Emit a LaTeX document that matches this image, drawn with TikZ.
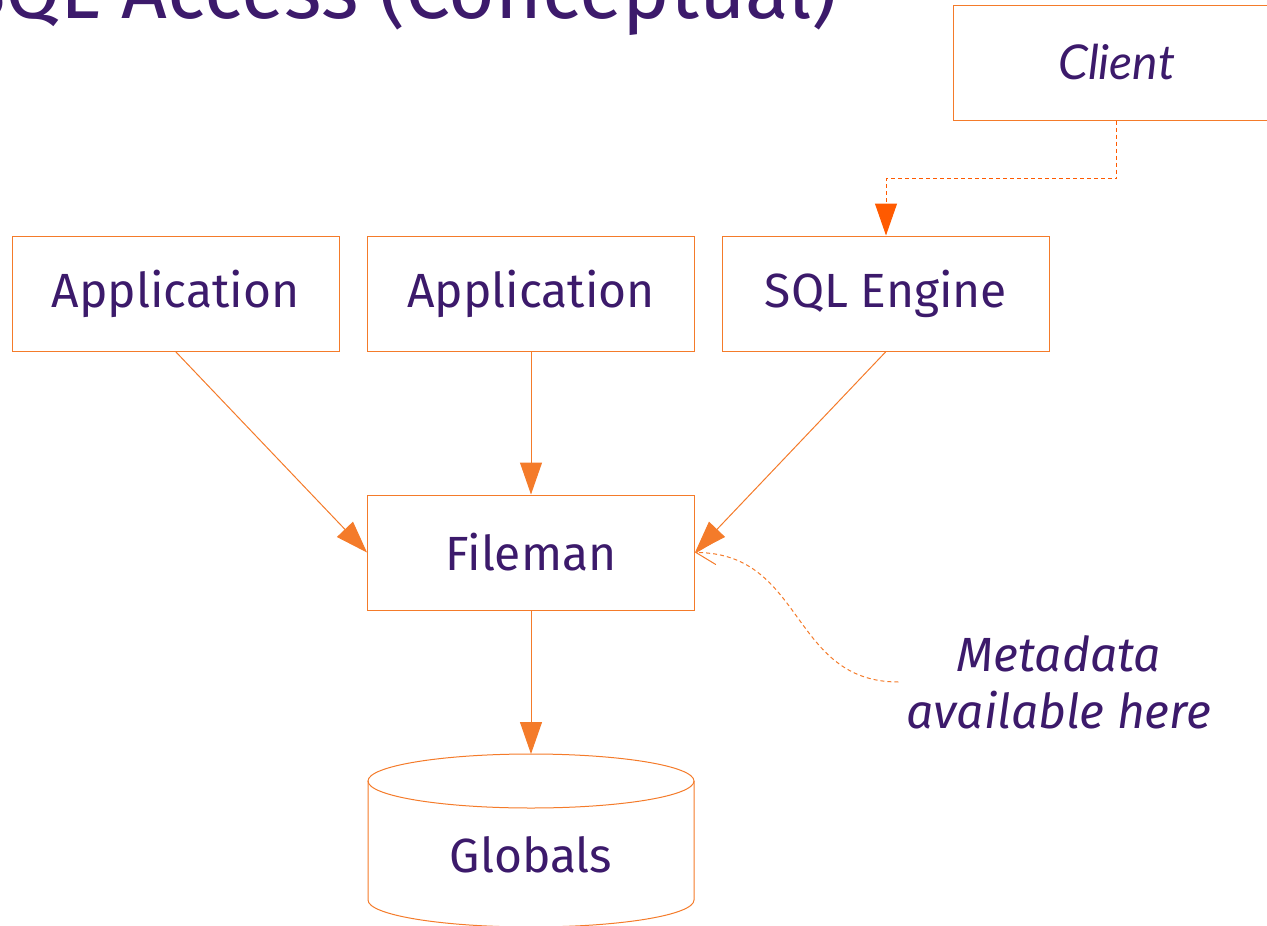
\documentclass[tikz,border=0pt]{standalone}
\usepackage{fontspec}
\setmainfont{Fira Sans}
\newfontfamily\clientfont{Lato}
\usetikzlibrary{arrows.meta}
\definecolor{deeppurple}{HTML}{3C1A6B}
\definecolor{lineorange}{HTML}{F47B2A}
\definecolor{hotorange}{HTML}{FF5A00}

\begin{document}
\begin{tikzpicture}[x=1pt,y=-1pt,
  box/.style={rectangle,draw=lineorange,line width=1pt,minimum width=327pt,minimum height=115pt,inner sep=0pt,text=deeppurple,font=\fontsize{48}{57}\selectfont},
  link/.style={draw=lineorange,line width=1pt,-{Triangle[length=32pt,width=22pt]}},
  hint/.style={draw=lineorange,line width=1pt,dash pattern=on 4pt off 3pt,-{Straight Barb[length=20pt,width=24pt]}}]
\useasboundingbox (0,0) rectangle (1267,926);
\clip (0,0) rectangle (1267,926);

% title, cut by the top edge
\node[font=\fontsize{80}{90}\selectfont,text=deeppurple,anchor=base east,inner sep=0pt] (title) at (838,18) {SQL Access (Conceptual)};

\node[box] (client) at (1116.5,62.5) {\clientfont\itshape Client};
\node[box] (appa) at (175.5,293.5) {Application};
\node[box] (appb) at (531,293.5) {Application};
\node[box] (sqlengine) at (886,293.5) {SQL Engine};
\node[box] (fileman) at (531,552.5) {Fileman};

% globals drum
\draw[lineorange,line width=1pt] (531,781) ellipse[x radius=163pt,y radius=27pt];
\draw[lineorange,line width=1pt] (368,781) -- (368,900) arc[start angle=180,end angle=360,x radius=163pt,y radius=27pt] -- (694,781);
\coordinate (dbtop) at (531,754);
\node[text=deeppurple,font=\fontsize{48}{57}\selectfont] (globals) at (531,855) {Globals};

\node[align=center,text=deeppurple,font=\fontsize{48}{57}\selectfont\itshape,inner sep=8pt] (meta) at (1059,682) {Metadata\\available here};

\draw[link] (appa.south) -- (fileman.west);
\draw[link] (appb.south) -- (fileman.north);
\draw[link] (sqlengine.south) -- (fileman.east);
\draw[link] (fileman.south) -- (dbtop);
\draw[draw=hotorange,line width=1pt,dash pattern=on 4pt off 3pt,-{Triangle[length=32pt,width=22pt,fill=hotorange]}] (client.south) -- ++(0,58) -| (sqlengine.north);
\draw[hint] (meta.west) .. controls (790,682) and (805,553) .. (fileman.east);

\end{tikzpicture}
\end{document}
